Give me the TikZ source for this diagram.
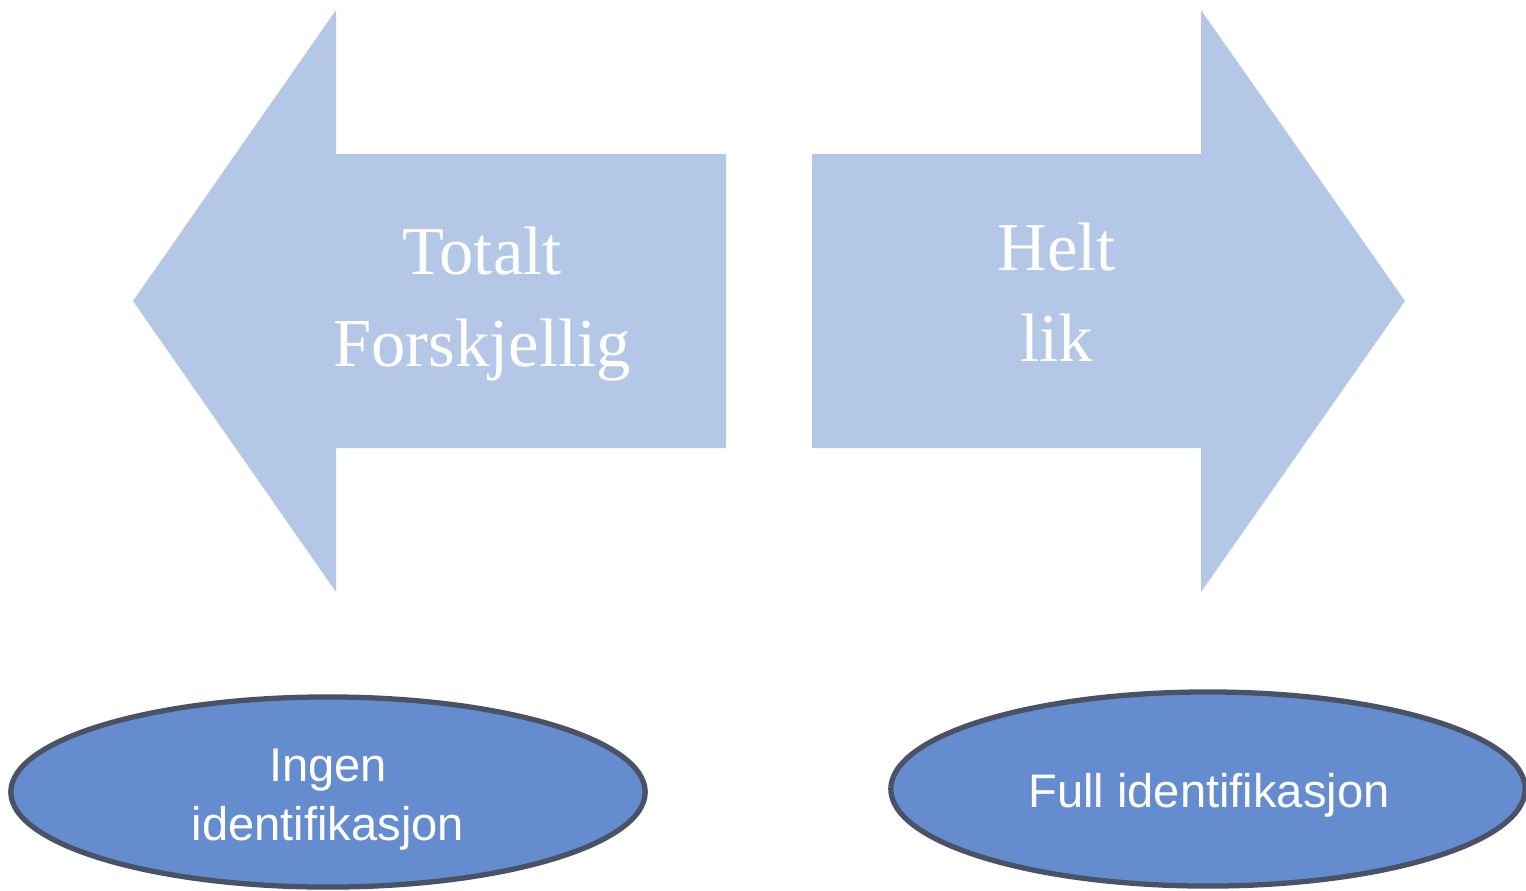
\documentclass[tikz,border=0pt]{standalone}
\usepackage{fontspec}
\setmainfont{Liberation Serif}
\newfontfamily\ellfont{Liberation Sans}
\usetikzlibrary{shapes.geometric}
\definecolor{arrowfill}{HTML}{B4C7E7}
\definecolor{ellfill}{HTML}{668CD0}
\definecolor{elldraw}{HTML}{4A5266}
\tikzset{
  bigarrow/.style={fill=arrowfill, draw=none},
  arrowtext/.style={text=white, align=center, font=\fontsize{19.5}{26}\selectfont, inner sep=0pt},
  ellnode/.style={ellipse, fill=ellfill, draw=elldraw, line width=1.5pt, inner sep=0pt},
  elltext/.style={text=white, align=center, font=\ellfont\fontsize{13.4}{16.8}\selectfont, inner sep=0pt},
}
\begin{document}
\begin{tikzpicture}[x=0.01cm, y=-0.01cm]
\useasboundingbox (0,0) rectangle (1526,890);
% left arrow
\path[bigarrow] (133,301) -- (336,10) -- (336,154) -- (726,154) -- (726,448) -- (336,448) -- (336,592) -- cycle;
% right arrow
\path[bigarrow] (1405,301) -- (1201,10) -- (1201,154) -- (812,154) -- (812,448) -- (1201,448) -- (1201,592) -- cycle;
\node[arrowtext] (lt) at (482,304) {Totalt\\Forskjellig};
\node[arrowtext] (rt) at (1057,292) {Helt\\lik};
\node[ellnode, minimum width=6.34cm, minimum height=1.90cm] (le) at (328,792) {};
\node[elltext] (lelab) at (328,800) {Ingen\\identifikasjon};
\node[ellnode, minimum width=6.34cm, minimum height=1.94cm] (re) at (1208,789) {};
\node[elltext] (relab) at (1209,795) {Full identifikasjon};
\end{tikzpicture}
\end{document}
